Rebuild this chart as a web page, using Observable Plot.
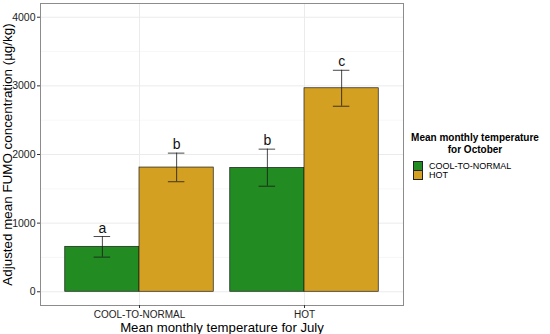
<!DOCTYPE html>
<html>
<head>
<meta charset="utf-8">
<script src="https://cdn.jsdelivr.net/npm/d3@7"></script>
<script src="https://cdn.jsdelivr.net/npm/@observablehq/plot@0.6"></script>
<style>
  html, body { margin: 0; padding: 0; background: #fff; }
  #wrap { position: relative; width: 550px; height: 334px; display: flex; font-family: "Liberation Sans", Arial, sans-serif; }
  #legend { width: 145px; padding-top: 132px; box-sizing: border-box; }
  #legend .title { font-weight: bold; font-size: 10px; line-height: 11.5px; text-align: center; color: #000; white-space: nowrap; margin-right: 5px; }
  #legend .row { display: flex; align-items: center; height: 9px; margin-left: 8px; font-size: 9px; color: #000; white-space: nowrap; }
  #legend .sw { width: 8px; height: 8px; border: 0.6px solid #222; margin-right: 6px; }
  #legend .rows { margin-top: 6px; }
</style>
</head>
<body>
<div id="wrap"></div>
<script>
// ---- data ----
const julyCats = ["COOL-TO-NORMAL", "HOT"];
const octoberCats = ["COOL-TO-NORMAL", "HOT"];
const july = ["COOL-TO-NORMAL", "COOL-TO-NORMAL", "HOT", "HOT"];
const october = ["COOL-TO-NORMAL", "HOT", "COOL-TO-NORMAL", "HOT"];
const meanFumo = [655, 1810, 1805, 2965];
const lowerCI = [505, 1603, 1538, 2703];
const upperCI = [805, 2020, 2078, 3227];
const groupLetters = ["a", "b", "b", "c"];
const yTicks = [0, 1000, 2000, 3000, 4000];
const yMinorTicks = [500, 1500, 2500, 3500];
const fillColors = ["#228B22", "#D4A021"];

// ---- table (ggplot-style dodge: width 0.9) ----
const dodge = 0.9;
const rows = meanFumo.map((v, i) => {
  const g = julyCats.indexOf(july[i]) + 1;
  const k = octoberCats.indexOf(october[i]);
  const w = dodge / octoberCats.length;
  const c = g - dodge / 2 + w * (k + 0.5);
  return { july: july[i], october: october[i], value: v, lo: lowerCI[i], hi: upperCI[i],
           letter: groupLetters[i], x1: c - w / 2, x2: c + w / 2, xc: c, e1: c - 0.05, e2: c + 0.05 };
});

const chart = Plot.plot({
  width: 405,
  height: 334,
  marginLeft: 40,
  marginRight: 2,
  marginTop: 3,
  marginBottom: 29,
  style: { fontFamily: "Liberation Sans, Arial, sans-serif", background: "#fff", color: "#222" },
  x: { type: "linear", domain: [0.4, julyCats.length + 0.6] },
  y: { domain: [-200, 4200] },
  color: { domain: octoberCats, range: fillColors },
  marks: [
    Plot.ruleY(yMinorTicks, { stroke: "#f2f2f2", strokeWidth: 0.6 }),
    Plot.ruleY(yTicks, { stroke: "#ebebeb", strokeWidth: 1 }),
    Plot.ruleX(julyCats.map((d, i) => i + 1), { stroke: "#ebebeb", strokeWidth: 1 }),
    Plot.rectY(rows, { x1: "x1", x2: "x2", y1: 0, y2: "value", fill: "october", stroke: "#1a1a1a", strokeWidth: 0.7 }),
    Plot.ruleX(rows, { x: "xc", y1: "lo", y2: "hi", stroke: "#1a1a1a", strokeWidth: 0.8 }),
    Plot.ruleY(rows, { y: "hi", x1: "e1", x2: "e2", stroke: "#1a1a1a", strokeWidth: 0.8 }),
    Plot.ruleY(rows, { y: "lo", x1: "e1", x2: "e2", stroke: "#1a1a1a", strokeWidth: 0.8 }),
    Plot.text(rows, { x: "xc", y: "hi", text: "letter", lineAnchor: "bottom", dy: -4, fontSize: 14, fill: "#111" }),
    Plot.frame({ stroke: "#8c8c8c", strokeWidth: 1 }),
    Plot.axisY({ ticks: yTicks, tickFormat: d3.format("d"), tickSize: 3, tickPadding: 2, fontSize: 10.5, stroke: "#333",
      label: "Adjusted mean FUMO concentration (µg/kg)", labelAnchor: "center", labelArrow: "none", labelOffset: 38 }),
    Plot.axisX({ ticks: julyCats.map((d, i) => i + 1), tickFormat: d => julyCats[d - 1], tickSize: 3, tickPadding: 2, fontSize: 10, stroke: "#333",
      label: "Mean monthly temperature for July", labelAnchor: "center", labelArrow: "none", labelOffset: 26 })
  ]
});

const wrap = document.getElementById("wrap");
wrap.appendChild(chart);
d3.select(chart).selectAll('g[aria-label="y-axis label"] text')
  .style("font-size", "13.4px").style("fill", "#000");
d3.select(chart).selectAll('g[aria-label="x-axis label"] text')
  .style("font-size", "13.2px").style("fill", "#000");

// ---- legend ----
const leg = document.createElement("div");
leg.id = "legend";
leg.innerHTML = `<div class="title">Mean monthly temperature<br>for October</div>` +
  `<div class="rows">` + octoberCats.map((c, i) =>
    `<div class="row"><span class="sw" style="background:${fillColors[i]}"></span>${c}</div>`).join("") + `</div>`;
wrap.appendChild(leg);
</script>
</body>
</html>
